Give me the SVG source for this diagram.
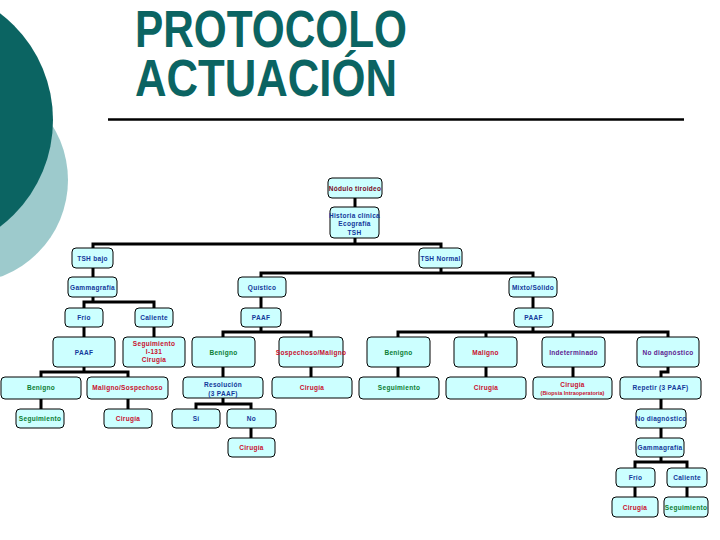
<svg xmlns="http://www.w3.org/2000/svg" width="720" height="540" viewBox="0 0 720 540">
<style>
.nd rect{fill:#ccffff;stroke:#000;stroke-width:1}
.nd text{font-family:"Liberation Sans",Arial,sans-serif;font-size:6.5px;font-weight:bold;text-anchor:middle;letter-spacing:0.3px}
.b{fill:#12389a}.g{fill:#0a7d32}.r{fill:#c8102e}.p{fill:#5e2290}.m{fill:#7a0a1e}
.sm{font-size:5.5px!important;letter-spacing:0px!important}
#connectors path{fill:none;stroke:#000;stroke-width:3}
.title{font-family:"Liberation Sans",Arial,sans-serif;font-weight:bold;font-size:51px;fill:#0b6462}
</style>
<rect width="720" height="540" fill="#fff"/>
<circle cx="-35" cy="180" r="103" fill="#9dcacc"/>
<circle cx="-81" cy="120" r="134" fill="#0b6462"/>
<text class="title"><tspan x="135" y="47" textLength="272" lengthAdjust="spacingAndGlyphs">PROTOCOLO</tspan><tspan x="135" y="96" textLength="262" lengthAdjust="spacingAndGlyphs">ACTUACIÓN</tspan></text>
<path d="M108,119.5 H684" stroke="#000" stroke-width="2.5"/>
<g id="connectors">
<path d="M355,198 V207"/>
<path d="M355,238 V244 M93,248 V244 H441 V248"/>
<path d="M93,268 V277"/>
<path d="M441,268 V273 M261,277 V273 H533 V277"/>
<path d="M93,297 V302 M84,308 V302 H154 V308"/>
<path d="M84,327 V337 M154,327 V337"/>
<path d="M84,367 V372 M41,377 V372 H128 V377"/>
<path d="M41,399 V409 M128,399 V409"/>
<path d="M261,297 V308"/>
<path d="M261,327 V332 M223,337 V332 H311 V337"/>
<path d="M223,367 V377 M311,367 V377"/>
<path d="M223,398 V404 M196,409 V404 H251 V409"/>
<path d="M251,428 V438"/>
<path d="M533,297 V308"/>
<path d="M533,327 V332 M398,337 V332 H668 V337 M486,332 V337 M573,332 V337"/>
<path d="M398,367 V377 M486,367 V377 M573,367 V377"/>
<path d="M668,367 V372 H661 V377"/>
<path d="M661,399 V409 M661,428 V438 M661,457 V462 M635,468 V462 H687 V468"/>
<path d="M635,487 V497 M687,487 V497"/>
</g>
<g id="n-nodulo" class="nd"><rect x="328" y="178" width="54" height="20" rx="4"/><text class="m" x="355" y="190.5">Nódulo tiroideo</text></g>
<g id="n-historia" class="nd"><rect x="330" y="207" width="49" height="31" rx="4"/><text class="b" x="354.5" y="217.5">Historia clínica</text><text class="b" x="354.5" y="226">Ecografía</text><text class="b" x="354.5" y="234.5">TSH</text></g>
<g id="n-tshbajo" class="nd"><rect x="72" y="248" width="41" height="20" rx="4"/><text class="b" x="92.5" y="260.5">TSH bajo</text></g>
<g id="n-tshnormal" class="nd"><rect x="419" y="248" width="43" height="20" rx="4"/><text class="b" x="440.5" y="260.5">TSH Normal</text></g>
<g id="n-gamma1" class="nd"><rect x="68" y="277" width="49" height="20" rx="4"/><text class="b" x="92.5" y="289.5">Gammagrafía</text></g>
<g id="n-quistico" class="nd"><rect x="238" y="277" width="48" height="20" rx="4"/><text class="b" x="262" y="289.5">Quístico</text></g>
<g id="n-mixto" class="nd"><rect x="509" y="277" width="48" height="20" rx="4"/><text class="b" x="533" y="289.5">Mixto/Sólido</text></g>
<g id="n-frio1" class="nd"><rect x="65" y="308" width="38" height="19" rx="4"/><text class="b" x="84" y="320">Frío</text></g>
<g id="n-caliente1" class="nd"><rect x="135" y="308" width="38" height="19" rx="4"/><text class="b" x="154" y="320">Caliente</text></g>
<g id="n-paaf-q" class="nd"><rect x="241" y="308" width="40" height="19" rx="4"/><text class="b" x="261" y="320">PAAF</text></g>
<g id="n-paaf-m" class="nd"><rect x="514" y="308" width="39" height="19" rx="4"/><text class="b" x="533.5" y="320">PAAF</text></g>
<g id="n-paaf-f" class="nd"><rect x="53" y="337" width="62" height="30" rx="4"/><text class="b" x="84" y="354.5">PAAF</text></g>
<g id="n-seg-i131" class="nd"><rect x="123" y="337" width="62" height="30" rx="4"/><text class="r" x="154" y="345.7">Seguimiento</text><text class="r" x="154" y="354">I-131</text><text class="r" x="154" y="362.3">Cirugía</text></g>
<g id="n-benigno-q" class="nd"><rect x="192" y="337" width="63" height="30" rx="4"/><text class="g" x="223.5" y="354.5">Benigno</text></g>
<g id="n-sosp-q" class="nd"><rect x="279" y="337" width="64" height="30" rx="4"/><text class="r" x="311" y="354.5">Sospechoso/Maligno</text></g>
<g id="n-benigno-m" class="nd"><rect x="367" y="337" width="63" height="30" rx="4"/><text class="g" x="398.5" y="354.5">Benigno</text></g>
<g id="n-maligno-m" class="nd"><rect x="454" y="337" width="63" height="30" rx="4"/><text class="r" x="485.5" y="354.5">Maligno</text></g>
<g id="n-indet" class="nd"><rect x="542" y="337" width="63" height="30" rx="4"/><text class="p" x="573.5" y="354.5">Indeterminado</text></g>
<g id="n-nodiag1" class="nd"><rect x="637" y="337" width="62" height="30" rx="4"/><text class="p" x="668" y="354.5">No diagnóstico</text></g>
<g id="n-benigno-f" class="nd"><rect x="1" y="377" width="80" height="22" rx="4"/><text class="g" x="41" y="390.3">Benigno</text></g>
<g id="n-malsos-f" class="nd"><rect x="87" y="377" width="81" height="22" rx="4"/><text class="r" x="127.5" y="390.3">Maligno/Sospechoso</text></g>
<g id="n-resolucion" class="nd"><rect x="183" y="377" width="80" height="21" rx="4"/><text class="b" x="223" y="386.5">Resolución</text><text class="b" x="223" y="396">(3 PAAF)</text></g>
<g id="n-cirugia-q" class="nd"><rect x="272" y="377" width="80" height="21" rx="4"/><text class="r" x="312" y="390">Cirugía</text></g>
<g id="n-seg-m" class="nd"><rect x="359" y="377" width="80" height="22" rx="4"/><text class="g" x="399" y="390.3">Seguimiento</text></g>
<g id="n-cirugia-m" class="nd"><rect x="446" y="377" width="80" height="22" rx="4"/><text class="r" x="486" y="390.3">Cirugía</text></g>
<g id="n-cirugia-bio" class="nd"><rect x="533" y="377" width="79" height="22" rx="4"/><text class="r" x="572.5" y="386.5">Cirugía</text><text class="r sm" x="572.5" y="395.3">(Biopsia Intraoperatoria)</text></g>
<g id="n-repetir" class="nd"><rect x="620" y="377" width="81" height="22" rx="4"/><text class="b" x="660.5" y="390.3">Repetir (3 PAAF)</text></g>
<g id="n-seg-f" class="nd"><rect x="16" y="409" width="48" height="19" rx="4"/><text class="g" x="40" y="421">Seguimiento</text></g>
<g id="n-cirugia-f" class="nd"><rect x="104" y="409" width="48" height="19" rx="4"/><text class="r" x="128" y="421">Cirugía</text></g>
<g id="n-si" class="nd"><rect x="172" y="409" width="48" height="19" rx="4"/><text class="b" x="196" y="421">Sí</text></g>
<g id="n-no" class="nd"><rect x="227" y="409" width="49" height="19" rx="4"/><text class="b" x="251.5" y="421">No</text></g>
<g id="n-nodiag2" class="nd"><rect x="636" y="409" width="50" height="19" rx="4"/><text class="b" x="661" y="421">No diagnóstico</text></g>
<g id="n-cirugia-no" class="nd"><rect x="228" y="438" width="47" height="19" rx="4"/><text class="r" x="251.5" y="450">Cirugía</text></g>
<g id="n-gamma2" class="nd"><rect x="636" y="438" width="48" height="19" rx="4"/><text class="b" x="660" y="450">Gammagrafía</text></g>
<g id="n-frio2" class="nd"><rect x="616" y="468" width="39" height="19" rx="4"/><text class="b" x="635.5" y="480">Frío</text></g>
<g id="n-caliente2" class="nd"><rect x="667" y="468" width="40" height="19" rx="4"/><text class="b" x="687" y="480">Caliente</text></g>
<g id="n-cirugia2" class="nd"><rect x="612" y="497" width="46" height="20" rx="4"/><text class="r" x="635" y="509.5">Cirugía</text></g>
<g id="n-seg2" class="nd"><rect x="664" y="497" width="44" height="20" rx="4"/><text class="g" x="686" y="509.5">Seguimiento</text></g>
</svg>
